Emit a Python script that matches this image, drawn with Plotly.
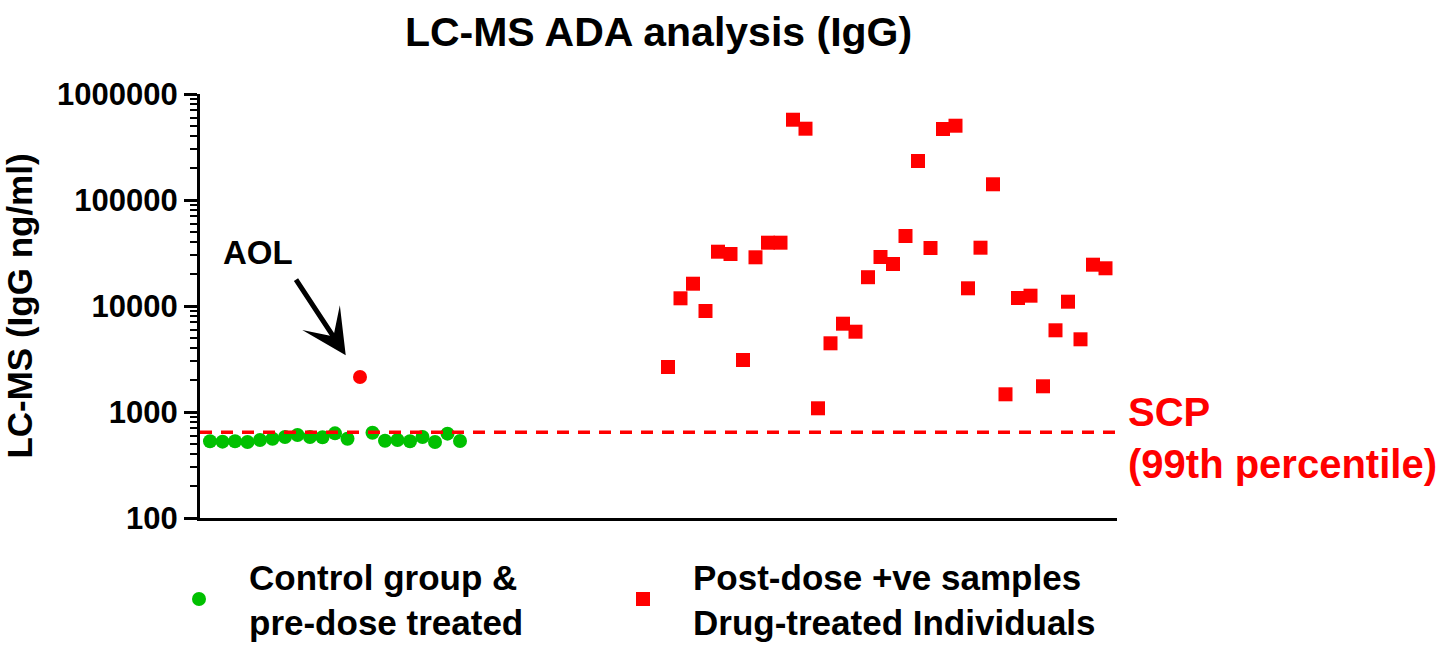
import numpy as np
import plotly.graph_objects as go

# IgG concentrations (ng/ml) measured by LC-MS
control_values = [529, 525, 529, 521, 544, 560, 581, 607, 581, 577, 629, 560,
                  638, 536, 544, 529, 581, 521, 625, 533]
aol_value = 2138          # outlier above the SCP in the control/pre-dose set
aol_position = 12         # slot of the outlier within the control column
post_dose_values = [2658, 11820, 16230, 8971, 32530, 30950, 3095, 28800, 39560,
                    39560, 572000, 470600, 1084, 4447, 6808, 5722, 18690, 28990,
                    24900, 45750, 233300, 35260, 467600, 502200, 14690, 35480,
                    140700, 1469, 11900, 12510, 1748, 5899, 10980, 4851, 24530,
                    22690]
scp_value = 643           # screening cut point (99th percentile)

y_tick_values = [100, 1000, 10000, 100000, 1000000]
y_tick_labels = ["100", "1000", "10000", "100000", "1000000"]

# horizontal layout of the two scatter columns (one slot per sample)
column_gap = 15.64
n_control_slots = len(control_values) + 1
control_x = [i for i in range(n_control_slots) if i != aol_position]
post_x = list(n_control_slots + column_gap + np.arange(len(post_dose_values)))

FONT = "Liberation Sans, Arial, sans-serif"
GREEN = "rgb(0,192,0)"
RED = "rgb(255,0,0)"

fig = go.Figure()

fig.add_trace(go.Scatter(
    x=control_x, y=control_values, mode="markers",
    name="Control group &<br>pre-dose treated", legend="legend",
    marker=dict(symbol="circle", size=14, color=GREEN),
))
fig.add_trace(go.Scatter(
    x=[aol_position], y=[aol_value], mode="markers", showlegend=False,
    marker=dict(symbol="circle", size=14, color=RED),
))
fig.add_trace(go.Scatter(
    x=post_x, y=post_dose_values, mode="markers",
    name="Post-dose +ve samples<br>Drug-treated Individuals", legend="legend2",
    marker=dict(symbol="square", size=14, color=RED),
))

# SCP threshold line
fig.add_shape(type="line", xref="paper", x0=0, x1=1, yref="y",
              y0=scp_value, y1=scp_value,
              line=dict(color=RED, width=3.5, dash="12px,9px"))

fig.add_annotation(xref="paper", x=1.01, yref="y", y=np.log10(scp_value),
                   text="SCP<br>(99th percentile)", showarrow=False,
                   xanchor="left", yanchor="middle", align="left", yshift=-6,
                   font=dict(family=FONT, size=40, color=RED, weight="bold"))

# AOL label and arrow pointing at the outlier
fig.add_annotation(x=aol_position, y=np.log10(aol_value), text="",
                   showarrow=True, arrowhead=3, arrowsize=1.5, arrowwidth=5,
                   arrowcolor="black", ax=-65, ay=-99, standoff=26)
fig.add_annotation(x=aol_position, y=np.log10(aol_value), text="AOL",
                   showarrow=False, xshift=-102, yshift=125,
                   font=dict(family=FONT, size=33, color="black", weight="bold"))

legend_style = dict(orientation="h", xanchor="left", xref="container",
                    y=1 - 547 / 645, yanchor="top", yref="container",
                    itemwidth=90,
                    font=dict(family=FONT, size=35, color="black", weight="bold"),
                    bgcolor="rgba(0,0,0,0)")

fig.update_layout(
    width=1444, height=645,
    margin=dict(l=200, r=327, t=94, b=127),
    paper_bgcolor="white", plot_bgcolor="white",
    font=dict(family=FONT, color="black"),
    title=dict(text="<b>LC-MS ADA analysis (IgG)</b>", x=0.5, xref="paper",
               xanchor="center", y=1 - 32 / 645, yref="container",
               yanchor="middle", font=dict(family=FONT, size=41, color="black")),
    showlegend=True,
    legend=dict(x=149 / 1444, **legend_style),
    legend2=dict(x=593 / 1444, **legend_style),
)

fig.update_xaxes(range=[-0.8, 72.56], showline=True, linecolor="black",
                 linewidth=3, showgrid=False, zeroline=False,
                 showticklabels=False, ticks="")
fig.update_yaxes(type="log", range=[2, 6], showline=True, linecolor="black",
                 linewidth=3, showgrid=False, zeroline=False,
                 tickvals=y_tick_values, ticktext=y_tick_labels,
                 ticks="outside", ticklen=13, tickwidth=3, tickcolor="black",
                 tickfont=dict(family=FONT, size=31, color="black", weight="bold"),
                 minor=dict(ticks="outside", ticklen=7, tickwidth=2,
                            tickcolor="black",
                            tickvals=[k * 10 ** e for e in range(2, 6)
                                      for k in range(2, 10)]),
                 title=dict(text="LC-MS (IgG ng/ml)", standoff=16,
                            font=dict(family=FONT, size=35, color="black",
                                      weight="bold")))

fig.write_html("out.html")
